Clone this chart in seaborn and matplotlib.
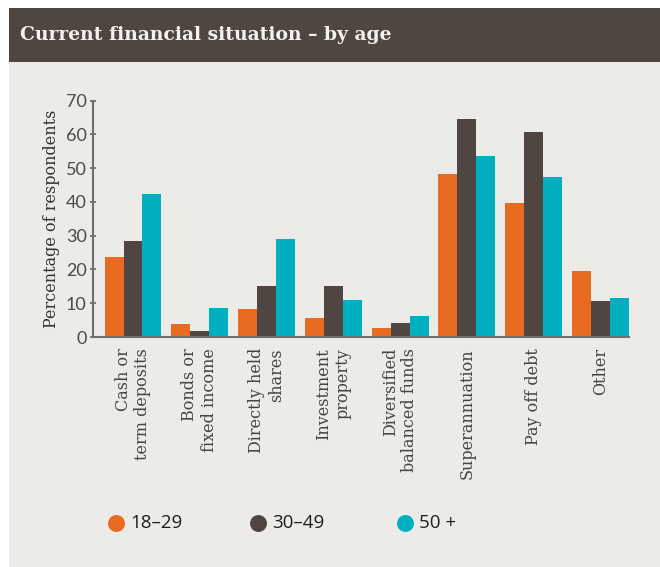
import matplotlib
matplotlib.use("Agg")
import matplotlib.pyplot as plt
from matplotlib.patches import Rectangle
from matplotlib.lines import Line2D
import seaborn as sns
import pandas as pd

# Survey results: share of respondents (%) by age group
categories = [
    "Cash or\nterm deposits",
    "Bonds or\nfixed income",
    "Directly held\nshares",
    "Investment\nproperty",
    "Diversified\nbalanced funds",
    "Superannuation",
    "Pay off debt",
    "Other",
]
age_groups = ["18–29", "30–49", "50 +"]
values_18_29 = [23.7, 3.8, 8.2, 5.5, 2.6, 48.3, 39.7, 19.5]
values_30_49 = [28.4, 1.7, 15.0, 15.0, 4.1, 64.6, 60.7, 10.6]
values_50_plus = [42.3, 8.5, 29.0, 10.9, 6.1, 53.6, 47.4, 11.5]
yticks = [0, 10, 20, 30, 40, 50, 60, 70]

colors = ["#E96B22", "#4F4641", "#00AFC0"]
panel_bg = "#ECEBE7"
title_bg = "#4F4641"

df = pd.DataFrame({
    "category": categories * 3,
    "age": [a for a in age_groups for _ in categories],
    "value": values_18_29 + values_30_49 + values_50_plus,
})

sns.set_theme(style="white")
plt.rcParams["font.family"] = ["DejaVu Sans"]

fig = plt.figure(figsize=(6.6, 5.67), dpi=100, facecolor="white")
W, H = 660, 567

def fx(px):
    return px / W

def fy(py):
    return 1 - py / H

# Background panel and title band
fig.add_artist(Rectangle((fx(9), 0), 1 - fx(9), fy(8), transform=fig.transFigure,
                         facecolor=panel_bg, edgecolor="none", zorder=0))
fig.add_artist(Rectangle((fx(9), fy(62)), 1 - fx(9), fy(8) - fy(62), transform=fig.transFigure,
                         facecolor=title_bg, edgecolor="none", zorder=1))
fig.text(fx(20), fy(35), "Current financial situation – by age", color="#F4F2EE",
         fontsize=13.5, fontweight="bold", family=["DejaVu Serif"],
         va="center", ha="left", zorder=2)

ax = fig.add_axes([fx(93), fy(337), fx(629) - fx(93), fy(100.7) - fy(337)])
ax.set_facecolor("none")

sns.barplot(data=df, x="category", y="value", hue="age", palette=colors,
            hue_order=age_groups, order=categories, width=0.853, saturation=1,
            errorbar=None, legend=False, ax=ax, zorder=3)
for p in ax.patches:
    p.set_edgecolor("none")

ax.set_xlim(-0.599, 7.427)
ax.set_ylim(0, 70)
ax.set_yticks(yticks)
ax.set_yticklabels([str(v) for v in yticks], fontsize=13, color="#4A4A4A",
                   family=["Lato", "DejaVu Sans"])
ax.set_xticks(range(len(categories)))
ax.set_xticklabels(categories, rotation=90, ha="center", va="top", multialignment="right",
                   fontsize=11.5, color="#444444", family=["DejaVu Serif"])
ax.set_xticks([i + 0.5 for i in range(len(categories) - 1)], minor=True)
ax.tick_params(axis="x", which="major", length=0, pad=8)
ax.tick_params(axis="x", which="minor", direction="in", length=6, width=1.2, color="#222222")
ax.tick_params(axis="y", which="major", direction="inout", length=5, width=1.2,
               color="#666666", pad=2, left=True)
ax.set_xlabel("")
ax.set_ylabel("Percentage of respondents", fontsize=11.5, color="#333333",
              family=["DejaVu Serif"])
ax.yaxis.set_label_coords(-(93 - 60) / (629 - 93), 0.5)

for side in ["top", "right"]:
    ax.spines[side].set_visible(False)
for side in ["left", "bottom"]:
    ax.spines[side].set_color("#6E6E6E")
    ax.spines[side].set_linewidth(1.5)
    ax.spines[side].set_zorder(4)

# Legend with round swatches
legend_x = [116, 258, 405]
legend_y = 523
for x, c, lab in zip(legend_x, colors, age_groups):
    fig.add_artist(Line2D([fx(x)], [fy(legend_y)], transform=fig.transFigure, marker="o",
                          markersize=12.2, markerfacecolor=c, markeredgecolor="none",
                          linestyle="none"))
    fig.text(fx(x + 14), fy(legend_y), lab, fontsize=13.5, color="#1E1E1E",
             family=["Open Sans", "DejaVu Sans"], va="center", ha="left")

fig.savefig("out.png", dpi=100, facecolor=fig.get_facecolor())
